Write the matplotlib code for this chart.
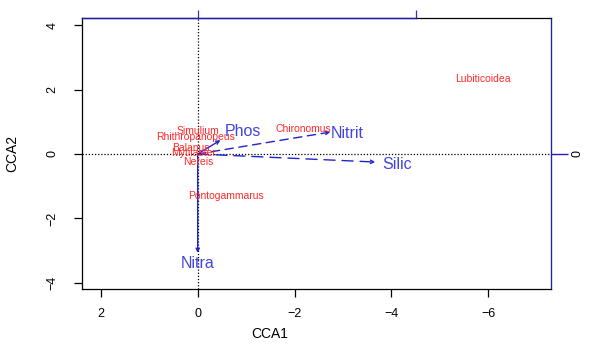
import numpy as np
import matplotlib
matplotlib.use("Agg")
import matplotlib.pyplot as plt

plt.rcParams["font.family"] = ["Liberation Sans", "DejaVu Sans"]

# species scores (CCA1, CCA2)
species = ["Lubiticoidea", "Chironomus", "Simulium", "Rhithropanopeus",
           "Balanus", "Mytilaster", "Nereis", "Pontogammarus"]
sp_x = [-5.9, -2.19, 0.0, 0.04, 0.15, 0.08, -0.02, -0.58]
sp_y = [2.33, 0.78, 0.70, 0.53, 0.19, 0.03, -0.25, -1.30]

# environmental arrows: tips and label positions
env = ["Nitra", "Phos", "Nitrit", "Silic"]
env_x = [0.0, -0.47, -2.74, -3.67]
env_y = [-3.07, 0.43, 0.68, -0.25]
lab_x = [0.0, -0.93, -3.09, -4.12]
lab_y = [-3.41, 0.71, 0.65, -0.34]
env_ls = ["-", "-", (0, (6, 4)), (0, (8, 5))]

xticks = [2, 0, -2, -4, -6]
yticks = [4, 2, 0, -2, -4]

fig = plt.figure(figsize=(5.97, 3.46), dpi=100)
ax = fig.add_axes([0.1374, 0.1647, 0.7856, 0.7833])
xlo, xhi = 2.39, -7.30
ylo, yhi = -4.19, 4.22
ax.set_xlim(xlo, xhi)
ax.set_ylim(ylo, yhi)

ax.axhline(0, color="black", ls=(0, (1, 1.5)), lw=0.9, zorder=1)
ax.axvline(0, color="black", ls=(0, (1, 1.5)), lw=0.9, zorder=1)

red = "#ff2a2a"
for name, x, y in zip(species, sp_x, sp_y):
    ax.text(x, y, name, color=red, fontsize=7.5, ha="center", va="center", zorder=3)

for i, name in enumerate(env):
    ax.annotate("", xy=(env_x[i], env_y[i]), xytext=(0, 0),
                arrowprops=dict(arrowstyle="->", color="#2222cc", lw=1.0,
                                linestyle=env_ls[i], shrinkA=0, shrinkB=0,
                                mutation_scale=6),
                zorder=2)
    ax.text(lab_x[i], lab_y[i], name, color="#4444dd", fontsize=11.5,
            ha="center", va="center", zorder=3)

for side in ax.spines.values():
    side.set_linewidth(0.9)
ax.spines["right"].set_color("#1f1fb4")

ax.set_xticks(xticks)
ax.set_xticklabels([str(t).replace("-", "\u2212") for t in xticks], fontsize=9)
ax.set_yticks(yticks)
ax.set_yticklabels([str(t).replace("-", "\u2212") for t in yticks], fontsize=9,
                   rotation=90, va="center")
ax.tick_params(direction="out", length=6, width=0.9)
ax.tick_params(axis="x", pad=8)
ax.tick_params(axis="y", pad=11)
ax.set_xlabel("CCA1", fontsize=10)
ax.set_ylabel("CCA2", fontsize=10)
ax.xaxis.set_label_coords(0.4, -0.14)
ax.yaxis.set_label_coords(-0.134, 0.5)

# blue biplot axes on top and right
ax.plot([xlo, -4.5], [yhi, yhi], color="#1f1fb4", lw=1.0, clip_on=False, zorder=4)
top = ax.secondary_xaxis("top")
top.set_xticks([0, -4.5])
top.set_xticklabels([])
top.tick_params(direction="out", length=6, width=0.9, color="#3333cc")
top.spines["top"].set_visible(False)

right = ax.secondary_yaxis("right")
right.set_yticks([0])
right.set_yticklabels(["0"], rotation=90, va="center", fontsize=9)
right.tick_params(direction="out", length=12, width=1.0, color="#1f1fb4", pad=3)
right.spines["right"].set_color("#1f1fb4")

fig.savefig("out.png", dpi=100)
